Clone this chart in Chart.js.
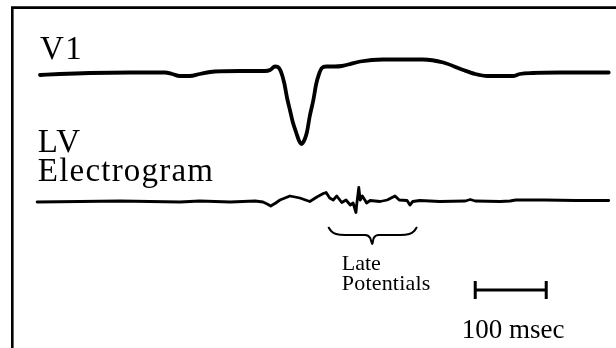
<!DOCTYPE html>
<html>
<head>
<meta charset="utf-8">
<script src="https://cdn.jsdelivr.net/npm/chart.js@4"></script>
<style>
  html, body { margin: 0; padding: 0; background: #ffffff; }
  canvas { display: block; }
</style>
</head>
<body>
<canvas id="c" width="616" height="348"></canvas>
<script>
// ---- Data (time in ms, amplitude in arbitrary units relative to each trace's baseline) ----
const v1Time = [0, 28, 70, 127, 176, 186, 197, 211, 225, 246, 282, 317, 324, 331, 335, 339, 344, 348, 352, 356, 361, 365, 368, 370, 373, 376, 380, 385, 389, 393, 397, 403, 415, 425, 434, 451, 483, 539, 568, 596, 613, 630, 666, 676, 694, 732, 801];
const v1Amp  = [-3, -2, -1, -0.5, -0.5, -2, -4, -4, -2, 0.5, 1, 1, 2, 5.5, 5, 1, -11, -26, -38, -50, -61, -69, -72, -71, -67, -60, -44, -28, -12, -2, 4, 5.5, 5.5, 6, 7.5, 10.5, 12.5, 12.5, 9.5, 2, -2, -4, -4, -2, -1, -0.5, -0.5];

const lvTime = [-4, 56, 113, 155, 197, 225, 268, 303, 314, 320, 325, 332, 338, 352, 366, 380, 390, 399, 403, 408, 413, 418, 425, 431, 437, 441, 445, 446, 449, 451, 454, 458, 460, 465, 479, 489, 500, 506, 517, 521, 525, 535, 563, 599, 606, 613, 648, 662, 670, 711, 754, 801];
const lvAmp  = [-1, -0.5, 0, -0.5, -1, 0, -1, 0, -1, -3, -5, -2, 1, 5, 3, -0.5, 4, 7.5, 8.5, 3, 1, 5, -1.5, 1, -4, -2, -11.5, -4, 13.5, 1, 5, 0.5, -2, 0.5, -0.5, 1, 5, 1, 0.5, -4, -0.5, 0.5, -0.5, 0, 1.5, 0, -0.5, 0, 1, 1, 0.5, 0.5];

// Brace marking the late potentials (on the LV amplitude scale)
const braceTime = [406, 410, 417, 430, 458, 465, 468, 470, 477, 507, 520, 527, 531];
const braceAmp  = [-26, -30, -33, -34, -34, -37, -43, -37, -34, -34, -33, -30, -26];

// 100 ms calibration bar
const scaleBarStart = 613;     // ms
const scaleBarLength = 100;    // ms
const scaleBarLevel = -89;     // LV units
const scaleBarTick = 9;        // LV units (half tick height)

// Labels
const traceLabels = [
  { text: "V1", t: 0, v: 13, axis: "yV1", size: 33, spacing: 1.5 },
  { text: "LV", t: -3, v: 49, axis: "yLV", size: 33, spacing: 1.2 },
  { text: "Electrogram", t: -3, v: 20, axis: "yLV", size: 33, spacing: 1.2 },
  { text: "Late", t: 425, v: -69, axis: "yLV", size: 22, spacing: 0 },
  { text: "Potentials", t: 425, v: -89, axis: "yLV", size: 22, spacing: 0.2 },
  { text: "100 msec", t: 594, v: -137, axis: "yLV", size: 27, spacing: 0 }
];

// ---- Build datasets ----
const toPts = (xs, ys) => xs.map((x, i) => ({ x: x, y: ys[i] }));
const scaleBarPts = [
  { x: scaleBarStart, y: scaleBarLevel + scaleBarTick },
  { x: scaleBarStart, y: scaleBarLevel - scaleBarTick },
  { x: null, y: null },
  { x: scaleBarStart, y: scaleBarLevel },
  { x: scaleBarStart + scaleBarLength, y: scaleBarLevel },
  { x: null, y: null },
  { x: scaleBarStart + scaleBarLength, y: scaleBarLevel + scaleBarTick },
  { x: scaleBarStart + scaleBarLength, y: scaleBarLevel - scaleBarTick }
];

const framePlugin = {
  id: 'frame',
  beforeDraw(chart) {
    const ctx = chart.ctx;
    ctx.save();
    ctx.fillStyle = '#ffffff';
    ctx.fillRect(0, 0, chart.width, chart.height);
    ctx.strokeStyle = '#000000';
    ctx.lineWidth = 2.6;
    ctx.beginPath();
    ctx.moveTo(12.3, chart.height);
    ctx.lineTo(12.3, 7.6);
    ctx.lineTo(chart.width, 7.6);
    ctx.stroke();
    ctx.restore();
  }
};

const labelPlugin = {
  id: 'labels',
  afterDatasetsDraw(chart) {
    const ctx = chart.ctx;
    ctx.save();
    ctx.fillStyle = '#000000';
    ctx.textBaseline = 'alphabetic';
    ctx.textAlign = 'left';
    traceLabels.forEach(l => {
      ctx.font = l.size + 'px "Liberation Serif", "Times New Roman", serif';
      if ('letterSpacing' in ctx) ctx.letterSpacing = l.spacing + 'px';
      const px = chart.scales.x.getPixelForValue(l.t);
      const py = chart.scales[l.axis].getPixelForValue(l.v);
      ctx.fillText(l.text, px, py);
    });
    ctx.restore();
  }
};

const PX_PER_MS = 0.71;
const ORIGIN_PX = 40;

new Chart(document.getElementById('c'), {
  type: 'line',
  data: {
    datasets: [
      { data: toPts(v1Time, v1Amp), yAxisID: 'yV1', borderColor: '#000', borderWidth: 3.8, cubicInterpolationMode: 'monotone', borderCapStyle: 'round', borderJoinStyle: 'round' },
      { data: toPts(lvTime, lvAmp), yAxisID: 'yLV', borderColor: '#000', borderWidth: 2.8, tension: 0, borderCapStyle: 'round', borderJoinStyle: 'round' },
      { data: toPts(braceTime, braceAmp), yAxisID: 'yLV', borderColor: '#000', borderWidth: 2, cubicInterpolationMode: 'monotone' },
      { data: scaleBarPts, yAxisID: 'yLV', borderColor: '#000', borderWidth: 3, spanGaps: false, tension: 0 }
    ]
  },
  options: {
    responsive: false,
    animation: false,
    devicePixelRatio: 1,
    layout: { padding: 0 },
    elements: { point: { radius: 0, hoverRadius: 0 }, line: { fill: false } },
    datasets: { line: { clip: false } },
    plugins: { legend: { display: false }, tooltip: { enabled: false }, title: { display: false } },
    scales: {
      x: { type: 'linear', display: false, min: -ORIGIN_PX / PX_PER_MS, max: (616 - ORIGIN_PX) / PX_PER_MS },
      yV1: { type: 'linear', display: false, min: -276, max: 72 },
      yLV: { type: 'linear', display: false, min: -147, max: 201 }
    }
  },
  plugins: [framePlugin, labelPlugin]
});
</script>
</body>
</html>
